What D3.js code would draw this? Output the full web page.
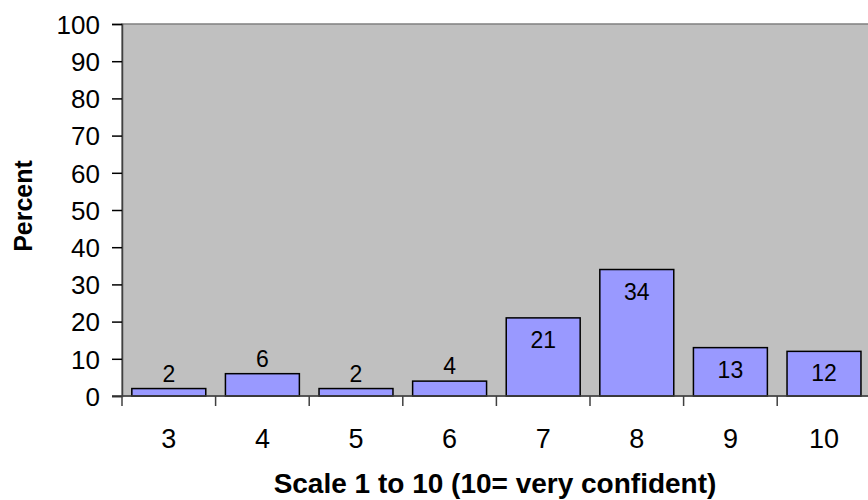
<!DOCTYPE html>
<head>
    <meta charset="utf-8">
    <script src="https://cdn.jsdelivr.net/npm/d3@7"></script>
    <style>
        body { margin: 0; background: white; }
        text { font-family: "Liberation Sans", Arial, sans-serif; fill: black; }
    </style>
</head>
<body>
<script>

    // chart data
    var categories = ["3", "4", "5", "6", "7", "8", "9", "10"];
    var values = [2, 6, 2, 4, 21, 34, 13, 12];
    var yTicks = [0, 10, 20, 30, 40, 50, 60, 70, 80, 90, 100];

    var width = 868, height = 500;
    var plotLeft = 122, plotTop = 24, plotBottom = 396;
    var band = 93.6;

    var svg = d3.select("body").append("svg")
        .attr("width", width)
        .attr("height", height);

    var x = d3.scaleBand()
        .domain(categories)
        .range([plotLeft, plotLeft + band * categories.length])
        .paddingInner(0.21)
        .paddingOuter(0.105);

    var y = d3.scaleLinear().domain([0, 100]).range([plotBottom, plotTop]);

    // plot area
    svg.append("rect")
        .attr("x", plotLeft)
        .attr("y", plotTop)
        .attr("width", band * categories.length)
        .attr("height", plotBottom - plotTop)
        .style("fill", "#c0c0c0")
        .style("stroke", "#808080")
        .style("stroke-width", 1.5);

    // bars
    svg.selectAll("rect.bar").data(values).enter().append("rect")
        .attr("class", "bar")
        .attr("x", function(d, i) { return x(categories[i]); })
        .attr("y", function(d) { return y(d); })
        .attr("width", x.bandwidth())
        .attr("height", function(d) { return plotBottom - y(d); })
        .style("fill", "#9999ff")
        .style("stroke", "black")
        .style("stroke-width", 1.5);

    // value labels: small bars get the label above, tall ones inside
    svg.selectAll("text.val").data(values).enter().append("text")
        .attr("class", "val")
        .attr("x", function(d, i) { return x(categories[i]) + x.bandwidth() / 2; })
        .attr("y", function(d) { return d < 10 ? y(d) - 7 : y(d) + 30; })
        .style("text-anchor", "middle")
        .style("font-size", "23px")
        .text(function(d) { return d; });

    // y axis
    var yAxis = svg.append("g")
        .attr("transform", "translate(" + plotLeft + ",0)")
        .call(d3.axisLeft(y).tickValues(yTicks).tickSize(10).tickPadding(12));
    yAxis.select(".domain").style("stroke", "#404040").style("stroke-width", 1.5);
    yAxis.selectAll(".tick line").style("stroke", "black").style("stroke-width", 1.5);
    yAxis.selectAll(".tick text")
        .style("font-size", "26px")
        .style("font-family", "'Liberation Sans', Arial, sans-serif")
        .attr("dy", "0.36em");

    // x axis line and ticks at band boundaries
    var bounds = d3.range(categories.length + 1).map(function(i) { return plotLeft + i * band; });
    svg.append("line")
        .attr("x1", plotLeft - 10).attr("x2", width)
        .attr("y1", plotBottom).attr("y2", plotBottom)
        .style("stroke", "#404040").style("stroke-width", 1.5);
    svg.selectAll("line.xt").data(bounds).enter().append("line")
        .attr("class", "xt")
        .attr("x1", function(d) { return d; }).attr("x2", function(d) { return d; })
        .attr("y1", plotBottom).attr("y2", plotBottom + 10)
        .style("stroke", "#404040").style("stroke-width", 1.5);

    svg.selectAll("text.xl").data(categories).enter().append("text")
        .attr("class", "xl")
        .attr("x", function(d) { return x(d) + x.bandwidth() / 2; })
        .attr("y", 448)
        .style("text-anchor", "middle")
        .style("font-size", "27px")
        .text(function(d) { return d; });

    // axis titles
    svg.append("text")
        .attr("x", 495)
        .attr("y", 493)
        .style("text-anchor", "middle")
        .style("font-size", "28px")
        .style("font-weight", "bold")
        .text("Scale 1 to 10 (10= very confident)");

    svg.append("text")
        .attr("transform", "translate(32,206) rotate(-90)")
        .style("text-anchor", "middle")
        .style("font-size", "25px")
        .style("font-weight", "bold")
        .text("Percent");

</script>
</body>
